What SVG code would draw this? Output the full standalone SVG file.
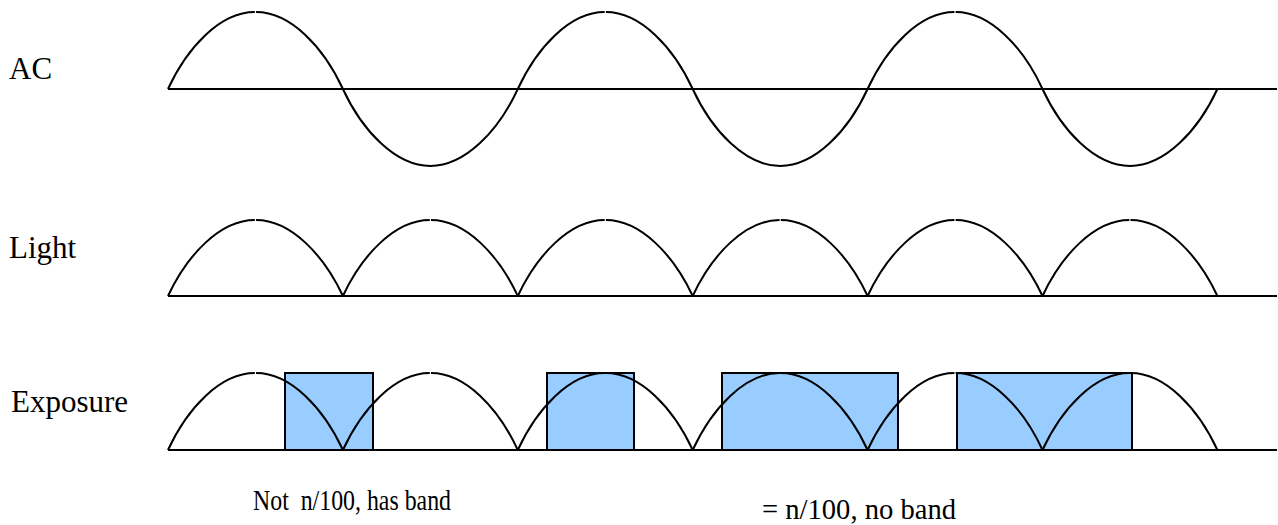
<svg xmlns="http://www.w3.org/2000/svg" width="1278" height="525" viewBox="0 0 1278 525">
<style>
.ln{fill:none;stroke:#000;stroke-width:2}
.bx{fill:#99ccff;stroke:#000;stroke-width:2}
.lbl{font-family:"Liberation Serif","Times New Roman",serif;font-size:31px;fill:#000}
.cap{font-family:"Liberation Serif","Times New Roman",serif;font-size:29px;fill:#000;white-space:pre}
</style>
<defs>
<path id="hump" class="ln" d="M0,0 c19.11,-41.58 52.11,-77 86.85,-77 m1.2,0 c34.74,0 67.74,35.42 86.85,77"/>
<path id="humpL" class="ln" d="M0,0 c19.11,-41.04 52.11,-76 86.85,-76 m1.2,0 c34.74,0 67.74,34.96 86.85,76"/>
<path id="trough" class="ln" d="M0,0 c19.24,41.58 52.47,77 87.45,77 c34.98,0 68.21,-35.42 87.45,-77"/>
</defs>
<rect width="1278" height="525" fill="#fff"/>
<g id="ac">
<text class="lbl" x="9" y="79">AC</text>
<line class="ln" x1="168" y1="89" x2="1277" y2="89"/>
<use href="#hump" x="168" y="89"/>
<use href="#trough" x="342.9" y="89"/>
<use href="#hump" x="517.8" y="89"/>
<use href="#trough" x="692.7" y="89"/>
<use href="#hump" x="867.6" y="89"/>
<use href="#trough" x="1042.5" y="89"/>
</g>
<g id="light">
<text class="lbl" x="9" y="258">Light</text>
<line class="ln" x1="168" y1="296" x2="1277" y2="296"/>
<use href="#humpL" x="168" y="296"/>
<use href="#humpL" x="342.9" y="296"/>
<use href="#humpL" x="517.8" y="296"/>
<use href="#humpL" x="692.7" y="296"/>
<use href="#humpL" x="867.6" y="296"/>
<use href="#humpL" x="1042.5" y="296"/>
</g>
<g id="exposure">
<text class="lbl" x="11" y="412">Exposure</text>
<rect id="win1" class="bx" x="285" y="373" width="88" height="77"/>
<rect id="win2" class="bx" x="547" y="373" width="87" height="77"/>
<rect id="win3" class="bx" x="722" y="373" width="176" height="77"/>
<rect id="win4" class="bx" x="957" y="373" width="175" height="77"/>
<line class="ln" x1="168" y1="450" x2="1277" y2="450"/>
<use href="#hump" x="168" y="450"/>
<use href="#hump" x="342.9" y="450"/>
<use href="#hump" x="517.8" y="450"/>
<use href="#hump" x="692.7" y="450"/>
<use href="#hump" x="867.6" y="450"/>
<use href="#hump" x="1042.5" y="450"/>
</g>
<g id="captions">
<text class="cap" x="253" y="510" textLength="198" lengthAdjust="spacingAndGlyphs">Not  n/100, has band</text>
<text class="cap" x="762" y="519" textLength="194" lengthAdjust="spacingAndGlyphs">= n/100, no band</text>
</g>
</svg>
